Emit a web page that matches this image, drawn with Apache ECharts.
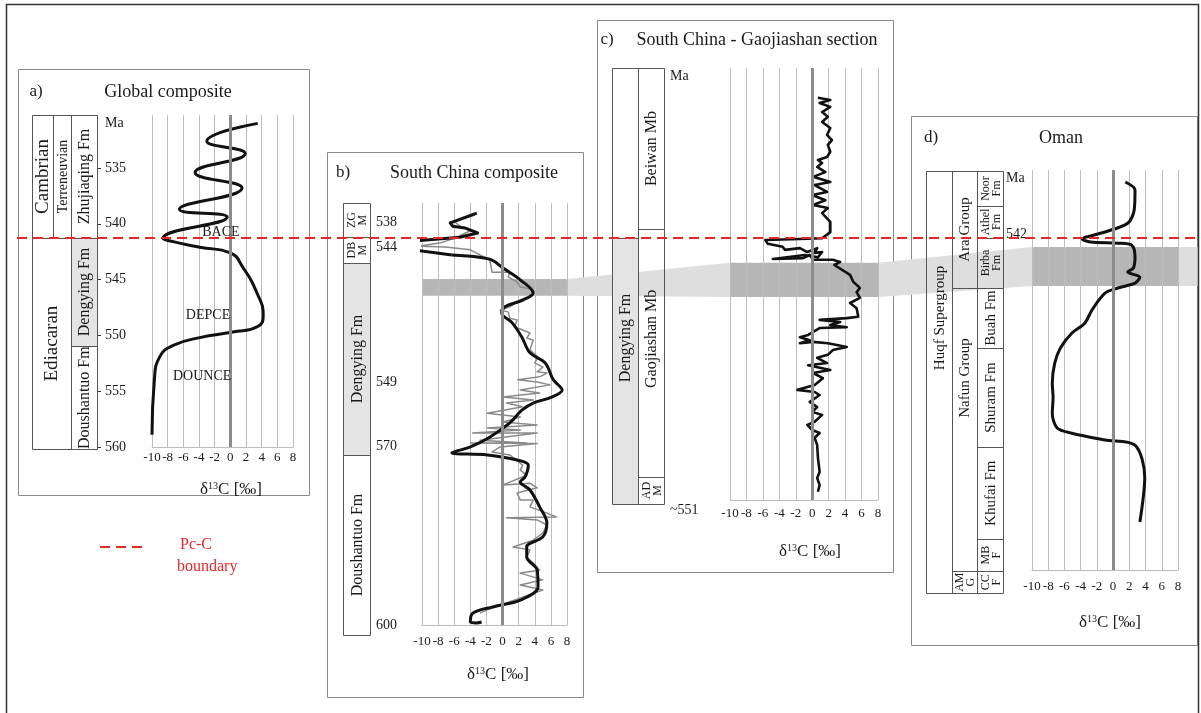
<!DOCTYPE html>
<html>
<head>
<meta charset="utf-8">
<script src="https://cdn.jsdelivr.net/npm/echarts@6/dist/echarts.min.js"></script>
<style>
  html, body { margin: 0; padding: 0; background: #fff; }
  #chart { width: 1201px; height: 713px; }
</style>
</head>
<body>
<div id="chart"></div>
<script>
// ---- data ----------------------------------------------------------------
// a) global composite: [δ13C ‰, age Ma]
const aCurve = [[3.5,531.0],[-3.0,532.6],[1.9,533.7],[-4.5,535.4],[1.5,536.8],[-6.5,538.7],[-0.4,539.4],
  [-8.6,541.3],[-7.3,541.6],[-3.9,542.1],[0.0,542.6],[1.6,543.9],[3.4,546.2],[4.2,548.2],[3.5,549.2],
  [0.3,549.7],[-3.9,550.2],[-7.3,550.9],[-9.0,551.9],[-9.7,554.0],[-10.0,558.9]];
const aTickPos = [531.0, 535, 540, 545, 550, 555, 560];
const aTickText = ['Ma', '535', '540', '545', '550', '555', '560'];
const aEvents = [['BACE', -1.2, 540.8], ['DEPCE', -2.85, 548.2], ['DOUNCE', -3.6, 553.7]];
const aUnits = [
  ['Cambrian', 0, 1, 530.25, 541.27], ['Terreneuvian', 1, 2, 530.25, 541.27], ['Zhujiaqing Fm', 2, 3, 530.25, 541.27],
  ['Ediacaran', 0, 2, 541.27, 560.2], ['Dengying Fm', 2, 3, 541.27, 550.95], ['Doushantuo Fm', 2, 3, 550.95, 560.2]
];
const boundaryAge = 541.27;

// b) South China composite: [δ13C ‰, relative height (0 top - 100 bottom)]
const bSmooth = [[-3.2,2.4],[-4.9,3.6],[-6.5,4.7],[-6.2,5.5],[-4.7,5.9],[-3.1,7.1],[-5.3,8.1],[-11.0,9.0],
  [-11.1,11.1],[-6.3,12.3],[-1.6,13.3],[0.05,15.4],[2.2,18.2],[3.8,21.3],[2.5,23.0],[0.3,24.6],[-0.1,26.1],
  [1.2,28.4],[2.4,31.8],[3.4,35.5],[5.3,37.9],[6.3,41.9],[7.4,44.3],[6.1,46.0],[3.8,47.4],[2.4,49.1],
  [0.9,52.1],[-1.6,55.5],[-4.0,57.8],[-6.3,59.2],[-1.9,59.7],[1.8,60.9],[3.2,62.1],[2.8,64.9],[2.2,66.1],
  [3.4,68.0],[4.6,72.0],[5.5,75.8],[5.0,79.1],[3.0,81.5],[3.0,83.9],[4.3,87.0],[4.4,91.0],[2.2,94.1],
  [-1.2,95.7],[-3.7,97.2],[-4.0,99.3],[-3.2,99.5],[-2.6,99.3]];
const bRaw = [[-3.4,2.8],[-5.9,4.5],[-5.3,5.5],[-3.8,6.4],[-5.9,8.3],[-7.8,9.5],[-10.5,10.2],[-7.1,10.4],
  [-4.0,11.1],[-1.6,13.5],[-1.3,16.4],[0.9,16.4],[0.7,17.5],[1.8,18.7],[2.2,19.9],[3.6,20.4],[3.8,21.8],
  [2.2,23.0],[0.9,24.6],[-0.3,25.4],[0.7,25.8],[0.9,27.3],[1.8,27.7],[1.5,29.4],[2.5,30.1],[3.4,30.8],
  [3.0,32.0],[3.8,32.5],[3.4,34.8],[4.4,36.5],[4.0,37.9],[5.0,38.9],[4.3,40.0],[5.5,40.3],[4.6,41.2],
  [1.9,41.9],[4.3,42.4],[5.9,43.1],[2.2,44.3],[4.6,45.0],[0.05,46.0],[3.8,46.7],[0.5,47.4],[2.5,48.3],
  [-1.9,49.8],[2.2,50.7],[0.05,51.9],[4.3,52.6],[-1.9,53.3],[2.2,53.8],[-3.7,54.5],[4.3,54.5],[-2.8,56.2],
  [3.0,56.9],[-4.0,56.9],[4.3,57.0],[-0.3,57.8],[-1.3,59.0],[0.9,59.7],[2.5,62.1],[2.2,63.3],[3.0,64.5],
  [0.05,66.8],[3.4,66.4],[4.3,67.5],[1.8,68.7],[2.2,70.4],[3.8,70.4],[3.4,72.0],[5.5,73.5],[6.7,74.4],
  [0.5,74.6],[4.3,75.1],[5.5,76.3],[5.0,78.2],[3.8,79.9],[1.3,81.5],[3.4,82.2],[3.0,83.9],[3.8,85.3],
  [4.6,87.0],[2.2,87.7],[5.0,89.3],[2.2,90.5],[5.0,91.7],[2.5,93.4],[0.9,94.5],[-0.7,95.7],[-1.9,96.4],[-2.8,97.2]];
const bTickPos = [1.4, 4.5, 10.4, 42.4, 57.6, 100];
const bTickText = ['Ma', '538', '544', '549', '570', '600'];
const bBand = [18.0, 22.0];
const bUnits = [
  ['ZG\nM', 0, 1, 0, 8.1], ['DB\nM', 0, 1, 8.1, 14.2], ['Dengying Fm', 0, 1, 14.2, 59.7], ['Doushantuo Fm', 0, 1, 59.7, 102.4]
];

// c) Gaojiashan section
const cCurve = [[0.7,6.9],[2.2,7.4],[0.9,8.1],[2.2,9.0],[1.2,10.2],[1.9,11.3],[1.2,12.5],[2.2,13.9],[1.8,15.5],
  [2.4,16.7],[1.9,17.8],[2.2,19.4],[1.8,20.6],[0.7,21.3],[1.2,22.0],[0.6,22.9],[1.6,24.1],[0.1,25.2],[2.2,26.4],
  [0.3,27.1],[1.8,28.7],[0.0,29.4],[1.6,30.6],[0.1,31.7],[1.9,32.4],[1.2,33.6],[2.2,35.6],[2.2,38.0],[1.2,39.4],
  [-1.5,39.6],[-5.7,39.8],[-5.4,40.7],[-3.6,41.4],[-3.3,42.1],[-1.5,41.7],[-0.6,42.6],[0.6,41.7],[0.3,42.8],
  [1.2,42.6],[0.7,43.8],[-0.9,43.3],[-4.8,44.2],[-1.1,44.0],[-0.3,43.3],[0.1,44.4],[2.5,44.4],[3.4,44.9],
  [2.7,45.6],[4.6,47.9],[5.0,49.5],[5.8,50.9],[5.4,51.9],[5.8,53.2],[4.6,54.4],[5.4,55.6],[5.6,57.6],[4.2,57.9],
  [0.9,58.3],[3.4,58.8],[2.2,59.5],[4.2,60.0],[0.9,60.2],[-0.5,61.8],[-1.5,62.3],[-0.3,63.0],[-1.5,63.7],
  [0.1,63.4],[1.9,63.7],[3.0,64.1],[4.2,64.6],[2.5,65.3],[1.9,66.4],[0.6,67.1],[1.8,68.3],[-0.5,68.8],[2.2,69.9],
  [0.1,70.6],[1.3,71.8],[0.3,73.4],[-1.8,74.5],[0.3,75.0],[0.9,75.7],[-0.3,77.3],[0.6,78.5],[0.0,79.6],[1.2,80.3],
  [0.3,81.9],[-0.6,82.6],[0.0,83.8],[0.9,84.5],[0.3,85.6],[0.6,87.3],[0.7,90.3],[0.9,93.5],[0.6,94.9],[0.9,96.5],[0.7,98.1]];
const cTickPos = [1.9];
const cTickText = ['Ma'];
const cBottomAge = ['~551', 102.3];
const cBand = [45.1, 53.0];
const cUnits = [
  ['', 0, 1, 0, 39.4], ['Dengying Fm', 0, 1, 39.4, 100.9, 62.5], ['Beiwan Mb', 1, 2, 0, 37.3],
  ['Gaojiashan Mb', 1, 2, 37.3, 94.7, 62.7], ['AD\nM', 1, 2, 94.7, 100.9]
];

// d) Oman
const dCurve = [[1.5,3.0],[2.7,5.0],[2.6,10.0],[1.8,13.3],[-1.0,15.5],[-3.8,17.3],[-2.8,18.0],[0.6,18.3],
  [2.3,18.8],[2.7,21.8],[2.5,24.5],[1.8,25.5],[3.3,26.8],[2.7,28.3],[0.6,29.5],[-1.0,30.8],[-2.6,35.0],
  [-3.5,38.3],[-5.1,40.8],[-6.5,44.5],[-7.2,48.3],[-7.5,53.3],[-7.4,56.8],[-7.5,60.8],[-6.9,64.5],
  [-5.1,65.8],[-1.0,67.5],[2.7,68.8],[3.9,76.8],[3.3,88.0]];
const dTickPos = [2.0, 16.0];
const dTickText = ['Ma', '542'];
const dBand = [19.25, 29.0];
const dUnits = [
  ['Huqf Supergroup', 0, 1, 0.25, 105.8, 37], ['Ara Group', 1, 2, 0.25, 29.5], ['Nafun Group', 1, 2, 29.5, 100.3, 52],
  ['AM\nG', 1, 2, 100.3, 105.8], ['Noor\nFm', 2, 3, 0.25, 9], ['Athel\nFm', 2, 3, 9, 17], ['Birba\nFm', 2, 3, 17, 29.5],
  ['Buah Fm', 2, 3, 29.5, 44.5], ['Shuram Fm', 2, 3, 44.5, 69.3], ['Khufai Fm', 2, 3, 69.3, 92.3],
  ['MB\nF', 2, 3, 92.3, 100.3], ['CC\nF', 2, 3, 100.3, 105.8]
];
const shadedUnits = ['Dengying Fm'];

const xTicks = [-10, 8, 2]; // min, max, step of δ13C axis

// ---- layout ----------------------------------------------------------------
const FONT = '"Liberation Serif", "DejaVu Serif", serif';
const TXT = '#1a1a1a';
const RED = '#e8262a';

const panels = [
  { box: [18, 69, 291, 426], grid: { left: 152, right: 908, top: 115, bottom: 266 }, y: [530.25, 560],
    colX: [32, 53, 71, 97], xMargin: 4, yMargin: 8, tickPos: aTickPos, tickText: aTickText, units: aUnits,
    tag: ['a)', 36, 92], title: ['Global composite', 168, 92], xname: [231, 490], fs: 16 },
  { box: [327, 152, 256, 545], grid: { left: 422, right: 634, top: 203, bottom: 88 }, y: [0, 100],
    colX: [343, 370], xMargin: 10, yMargin: 6, tickPos: bTickPos, tickText: bTickText, units: bUnits, band: bBand,
    tag: ['b)', 343, 173], title: ['South China composite', 474, 173], xname: [498, 675], fs: 16 },
  { box: [597, 20, 296, 552], grid: { left: 730, right: 323, top: 68, bottom: 213 }, y: [0, 100],
    colX: [612, 638, 664], xMargin: 7, yMargin: 6, tickPos: cTickPos, tickText: cTickText, units: cUnits, band: cBand,
    tag: ['c)', 607, 40], title: ['South China - Gaojiashan section', 757, 40], xname: [810, 552], fs: 16 },
  { box: [911, 116, 286, 529], grid: { left: 1032, right: 23, top: 170, bottom: 143 }, y: [0, 100],
    colX: [926, 952, 977, 1003], xMargin: 10, yMargin: 3, tickPos: dTickPos, tickText: dTickText, units: dUnits, band: dBand,
    tag: ['d)', 931, 138], title: ['Oman', 1061, 138], xname: [1110, 623], fs: 15 }
];
const sizeOverride = { 'Cambrian': 19, 'Ediacaran': 19, 'Terreneuvian': 14 };

// ---- option ----------------------------------------------------------------
const option = {
  animation: false,
  backgroundColor: '#fff',
  grid: panels.map(p => p.grid),
  xAxis: panels.map((p, i) => ({
    type: 'value', gridIndex: i, min: xTicks[0], max: xTicks[1], interval: xTicks[2],
    axisLine: { show: true, onZero: false, lineStyle: { color: '#bdbdbd', width: 1 } },
    axisTick: { show: false },
    axisLabel: { color: TXT, fontFamily: FONT, fontSize: 13, margin: p.xMargin },
    splitLine: { show: true, lineStyle: { color: '#bdbdbd', width: 1 } }
  })),
  yAxis: panels.map((p, i) => ({
    type: 'value', gridIndex: i, inverse: true, min: p.y[0], max: p.y[1],
    offset: p.grid.left - p.colX[p.colX.length - 1],
    axisLine: { show: false, onZero: false },
    splitLine: { show: false },
    axisTick: { show: i === 0, inside: true, length: 4, customValues: aTickPos.slice(1),
      lineStyle: { color: '#333', width: 1 } },
    axisLabel: {
      inside: true, margin: p.yMargin, color: TXT, fontFamily: FONT, fontSize: 14,
      customValues: p.tickPos,
      formatter: v => {
        const k = p.tickPos.findIndex(t => Math.abs(t - v) < 1e-6);
        return k >= 0 ? p.tickText[k] : '';
      }
    }
  })),
  series: []
};

panels.forEach((p, i) => {
  option.series.push({
    type: 'line', xAxisIndex: i, yAxisIndex: i, data: [], z: 1, silent: true,
    markLine: { silent: true, symbol: ['none', 'none'], label: { show: false },
      lineStyle: { color: '#8c8c8c', width: 3, type: 'solid' }, data: [{ xAxis: 0 }] }
  });
});

const line = (i, data, color, width, smooth, z) => ({
  type: 'line', xAxisIndex: i, yAxisIndex: i, data: data, showSymbol: false, smooth: smooth, z: z,
  clip: false, lineStyle: { color: color, width: width, join: 'round' }, silent: true
});
option.series.push(line(0, aCurve, '#111', 3, 0.5, 3));
option.series.push(line(1, bRaw, '#8a8a8a', 1.5, false, 2));
// the composite's top part runs past the axis minimum; draw that part unsmoothed
option.series.push(line(1, bSmooth.slice(0, 10), '#111', 3, false, 3));
option.series.push(line(1, bSmooth.slice(9), '#111', 3, 0.35, 3));
option.series.push(line(2, cCurve, '#111', 2.6, false, 3));
option.series.push(line(3, dCurve, '#111', 3, 0.3, 3));

const chart = echarts.init(document.getElementById('chart'));
chart.setOption(option);

// ---- annotations positioned through the axes ------------------------------
const toPx = (g, x, y) => chart.convertToPixel({ gridIndex: g }, [x, y]);
const gy = (g, y) => toPx(g, 0, y)[1];

const txt = (s, x, y, size, opts) => Object.assign({
  type: 'text', x: x, y: y, z: 12,
  style: { text: s, font: `${size}px ${FONT}`, fill: TXT, align: 'center', verticalAlign: 'middle',
    textAlign: 'center', textVerticalAlign: 'middle' }
}, opts || {});

const g = [];
// outer frame
g.push({ type: 'rect', z: 20, shape: { x: 6.5, y: 4.5, width: 1192, height: 720 },
  style: { fill: null, stroke: '#333', lineWidth: 1.5 } });

panels.forEach((p, i) => {
  const b = p.box;
  g.push({ type: 'rect', z: -2, shape: { x: b[0] + 0.5, y: b[1] + 0.5, width: b[2], height: b[3] },
    style: { fill: '#fff', stroke: '#8a8a8a', lineWidth: 1 } });
  g.push(txt(p.tag[0], p.tag[1], p.tag[2], 17, {}));
  g.push(txt(p.title[0], p.title[1], p.title[2], 18, {}));
  g.push({ type: 'text', x: p.xname[0], y: p.xname[1], z: 12,
    style: { text: '{d|δ}{s|13}{d|C [‰]}', align: 'center', verticalAlign: 'middle',
      textAlign: 'center', textVerticalAlign: 'middle',
      rich: { d: { font: `17px ${FONT}`, fill: TXT, lineHeight: 18 },
              s: { font: `10px ${FONT}`, fill: TXT, verticalAlign: 'top', lineHeight: 10 } } } });

  // dark correlation band inside the plot (semi-transparent so grid lines show)
  if (p.band) {
    const t0 = toPx(i, -10, p.band[0]), t1 = toPx(i, 8, p.band[1]);
    g.push({ type: 'rect', z: -0.5, shape: { x: t0[0], y: t0[1], width: t1[0] - t0[0], height: t1[1] - t0[1] },
      style: { fill: 'rgba(95,95,95,0.46)' } });
  }

  // stratigraphic columns
  p.units.forEach(u => {
    const x0 = p.colX[u[1]], x1 = p.colX[u[2]];
    const y0 = gy(i, u[3]), y1 = gy(i, u[4]);
    const shaded = shadedUnits.indexOf(u[0]) >= 0;
    g.push({ type: 'rect', z: 4, shape: { x: x0 + 0.5, y: Math.round(y0) + 0.5, width: x1 - x0, height: Math.round(y1) - Math.round(y0) },
      style: { fill: shaded ? '#e4e4e4' : 'rgba(0,0,0,0)', stroke: '#555', lineWidth: 1 } });
    if (u[0]) {
      const two = u[0].indexOf('\n') >= 0;
      const size = two ? 12 : (sizeOverride[u[0]] || p.fs);
      const cy = u[5] !== undefined ? gy(i, u[5]) : (y0 + y1) / 2;
      const t = txt(u[0], (x0 + x1) / 2 + 1, cy, size, { rotation: Math.PI / 2 });
      t.style.lineHeight = two ? 11 : size;
      g.push(t);
    }
  });
});

// light correlation band between sections
const bands = [bBand, cBand, dBand];
for (let k = 0; k < 2; k++) {
  const a0 = toPx(k + 1, 8, bands[k][0]), a1 = toPx(k + 1, 8, bands[k][1]);
  const b0 = toPx(k + 2, -10, bands[k + 1][0]), b1 = toPx(k + 2, -10, bands[k + 1][1]);
  g.push({ type: 'polygon', z: -1, shape: { points: [a0, b0, b1, a1] }, style: { fill: '#dedede' } });
}
{
  const a0 = toPx(3, 8, dBand[0]), a1 = toPx(3, 8, dBand[1]);
  g.push({ type: 'polygon', z: -1, shape: { points: [a0, [1198, a0[1]], [1198, a1[1]], a1] }, style: { fill: '#dedede' } });
}

// event labels, panel a
aEvents.forEach(e => {
  const q = toPx(0, e[1], e[2]);
  g.push(txt(e[0], q[0], q[1], 14, {}));
});

// bottom age, panel c
{
  const q = toPx(2, -10, cBottomAge[1]);
  g.push({ type: 'text', x: 670, y: q[1], z: 12, style: { text: cBottomAge[0], font: `14px ${FONT}`, fill: TXT,
    align: 'left', verticalAlign: 'middle', textAlign: 'left', textVerticalAlign: 'middle' } });
}

// Pc-C boundary line
{
  const y = Math.round(gy(0, boundaryAge));
  g.push({ type: 'line', z: 15, shape: { x1: 17, y1: y, x2: 1198, y2: y },
    style: { stroke: RED, lineWidth: 2, lineDash: [10, 6] } });
}

// legend
g.push({ type: 'line', z: 15, shape: { x1: 100, y1: 547, x2: 142, y2: 547 },
  style: { stroke: RED, lineWidth: 2, lineDash: [10, 6] } });
['Pc-C', 'boundary'].forEach((s, k) => {
  g.push({ type: 'text', x: k ? 177 : 180, y: k ? 567 : 545, z: 15,
    style: { text: s, font: `16px ${FONT}`, fill: RED, align: 'left', verticalAlign: 'middle',
      textAlign: 'left', textVerticalAlign: 'middle' } });
});

chart.setOption({ graphic: { elements: g } });
</script>
</body>
</html>
